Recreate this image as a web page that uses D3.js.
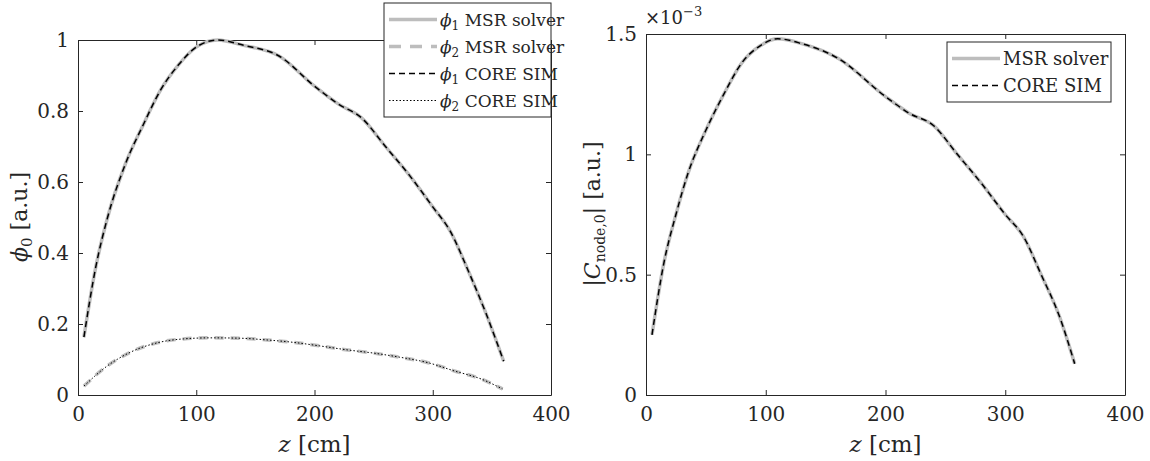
<!DOCTYPE html>
<html>
<head>
<meta charset="utf-8">
<script src="https://cdn.jsdelivr.net/npm/d3@7"></script>
<style>
  body { margin: 0; background: #fff; }
</style>
</head>
<body>
<div id="chart"></div>
<script>
// left panel: normalised fluxes
const zPhi1 = [5, 15, 25, 40, 55, 70, 85, 100, 118, 140, 170, 200, 220, 240, 260, 280, 300, 315, 330, 345, 360]
const phi1 = [0.163, 0.36, 0.5, 0.65, 0.76, 0.86, 0.93, 0.98, 1.0, 0.985, 0.955, 0.87, 0.82, 0.78, 0.7, 0.62, 0.53, 0.46, 0.35, 0.23, 0.095]
const zPhi2 = [5, 24, 44, 67, 89, 112, 137, 160, 183, 205, 228, 250, 273, 296, 318, 341, 359]
const phi2 = [0.025, 0.08, 0.12, 0.147, 0.158, 0.161, 0.16, 0.155, 0.148, 0.138, 0.127, 0.118, 0.106, 0.091, 0.068, 0.045, 0.017]

// right panel: |C_node,0| in units of 1e-3
const zC = [5, 15, 25, 35, 50, 65, 80, 95, 110, 130, 160, 200, 220, 240, 260, 280, 300, 315, 330, 345, 358]
const cNode = [0.25, 0.55, 0.75, 0.92, 1.1, 1.25, 1.38, 1.45, 1.48, 1.46, 1.4, 1.24, 1.17, 1.12, 1.0, 0.88, 0.75, 0.66, 0.5, 0.33, 0.13]

const xTicks = [0, 100, 200, 300, 400]
const leftYTicks = [0, 0.2, 0.4, 0.6, 0.8, 1]
const rightYTicks = [0, 0.5, 1, 1.5]

const grey = '#bdbdbd'
const ink = '#262626'
const serif = '"DejaVu Serif", serif'

const svg = d3.select('#chart').append('svg')
  .attr('width', 1150)
  .attr('height', 461)
  .style('font-family', serif)

function zip(xs, ys) {
  return xs.map((x, i) => ({ z: x, v: ys[i] }))
}

function panel(box, yDomain, yTicks) {
  const x = d3.scaleLinear().domain([0, 400]).range([box.left, box.right])
  const y = d3.scaleLinear().domain(yDomain).range([box.bottom, box.top])
  const g = svg.append('g')

  const styleAxis = sel => {
    sel.attr('font-family', null)
    sel.selectAll('path').attr('stroke', ink).attr('stroke-width', 1)
    sel.selectAll('line').attr('stroke', ink)
    sel.selectAll('text')
      .attr('fill', ink)
      .style('font-family', serif)
      .style('font-size', '20px')
  }

  g.append('g').attr('transform', `translate(0,${box.bottom})`)
    .call(d3.axisBottom(x).tickValues(xTicks).tickSizeInner(-5).tickSizeOuter(0).tickPadding(12))
    .call(styleAxis)
  g.append('g').attr('transform', `translate(0,${box.top})`)
    .call(d3.axisTop(x).tickValues(xTicks).tickSizeInner(-5).tickSizeOuter(0).tickFormat(''))
    .call(styleAxis)
  g.append('g').attr('transform', `translate(${box.left},0)`)
    .call(d3.axisLeft(y).tickValues(yTicks).tickSizeInner(-5).tickSizeOuter(0).tickPadding(9).tickFormat(d3.format('~g')))
    .call(styleAxis)
  g.append('g').attr('transform', `translate(${box.right},0)`)
    .call(d3.axisRight(y).tickValues(yTicks).tickSizeInner(-5).tickSizeOuter(0).tickFormat(''))
    .call(styleAxis)

  const line = d3.line().x(d => x(d.z)).y(d => y(d.v)).curve(d3.curveMonotoneX)
  return { x, y, g, line }
}

function addLine(p, data, stroke, width, dash) {
  p.g.append('path')
    .datum(data)
    .attr('d', p.line)
    .attr('fill', 'none')
    .attr('stroke', stroke)
    .attr('stroke-width', width)
    .attr('stroke-dasharray', dash)
}

// left panel
const left = panel({ left: 78, right: 551, top: 40, bottom: 395 }, [0, 1], leftYTicks)
addLine(left, zip(zPhi1, phi1), grey, 3.5, null)
addLine(left, zip(zPhi2, phi2), grey, 3.5, '9,7')
addLine(left, zip(zPhi1, phi1), '#000', 1.5, '6,4')
addLine(left, zip(zPhi2, phi2), '#000', 1, '1.5,2')

// right panel
const right = panel({ left: 646, right: 1125, top: 34, bottom: 395 }, [0, 1.5], rightYTicks)
addLine(right, zip(zC, cNode), grey, 3.5, null)
addLine(right, zip(zC, cNode), '#000', 1.5, '6,4')

function label(x, y, size, rotate) {
  return svg.append('text')
    .attr('transform', `translate(${x},${y})` + (rotate ? ' rotate(-90)' : ''))
    .attr('text-anchor', 'middle')
    .attr('fill', ink)
    .style('font-family', serif)
    .style('font-size', size + 'px')
}

// axis labels
function xLabel(p) {
  const t = label((p.x.range()[0] + p.x.range()[1]) / 2, 452, 23)
  t.append('tspan').attr('font-style', 'italic').text('z')
  t.append('tspan').text(' [cm]')
}
xLabel(left)
xLabel(right)

const yl1 = label(27, 217, 22, true)
yl1.append('tspan').attr('font-style', 'italic').text('ϕ')
yl1.append('tspan').style('font-size', '15px').attr('dy', 5).text('0')
yl1.append('tspan').attr('dy', -5).text(' [a.u.]')

const yl2 = label(600, 214, 22, true)
yl2.append('tspan').text('|')
yl2.append('tspan').attr('font-style', 'italic').text('C')
yl2.append('tspan').style('font-size', '14px').attr('dy', 5).text('node,0')
yl2.append('tspan').attr('dy', -5).text('| [a.u.]')

// exponent marker
const ex = svg.append('text').attr('x', 645).attr('y', 24).attr('fill', ink)
  .style('font-family', serif).style('font-size', '18px')
ex.append('tspan').text('×10')
ex.append('tspan').style('font-size', '13px').attr('dy', -8).text('−3')

// legends
function legend(x0, y0, w, rowH, fs, items) {
  const g = svg.append('g')
  g.append('rect')
    .attr('x', x0).attr('y', y0)
    .attr('width', w).attr('height', rowH * items.length + 6)
    .attr('fill', '#fff').attr('stroke', ink).attr('stroke-width', 1)
  items.forEach((it, i) => {
    const cy = y0 + 3 + rowH * (i + 0.5)
    g.append('line')
      .attr('x1', x0 + 5).attr('x2', x0 + 53)
      .attr('y1', cy).attr('y2', cy)
      .attr('stroke', it.stroke).attr('stroke-width', it.width)
      .attr('stroke-dasharray', it.dash)
    const t = g.append('text')
      .attr('x', x0 + 56).attr('y', cy + 6)
      .attr('fill', ink)
      .style('font-family', serif)
      .style('font-size', fs + 'px')
    if (it.sym) {
      t.append('tspan').attr('font-style', 'italic').text('ϕ')
      t.append('tspan').style('font-size', (fs - 5) + 'px').attr('dy', 4).text(it.sym)
      t.append('tspan').attr('dy', -4).text(' ' + it.label)
    } else {
      t.text(it.label)
    }
  })
}

legend(384, 3, 167, 27, 17, [
  { sym: '1', label: 'MSR solver', stroke: grey, width: 3.5, dash: null },
  { sym: '2', label: 'MSR solver', stroke: grey, width: 3.5, dash: '12,9' },
  { sym: '1', label: 'CORE SIM', stroke: '#000', width: 1.5, dash: '6,4' },
  { sym: '2', label: 'CORE SIM', stroke: '#000', width: 1, dash: '1.5,2' }
])

legend(947, 42, 164, 27, 18, [
  { label: 'MSR solver', stroke: grey, width: 3.5, dash: null },
  { label: 'CORE SIM', stroke: '#000', width: 1.5, dash: '6,4' }
])
</script>
</body>
</html>
